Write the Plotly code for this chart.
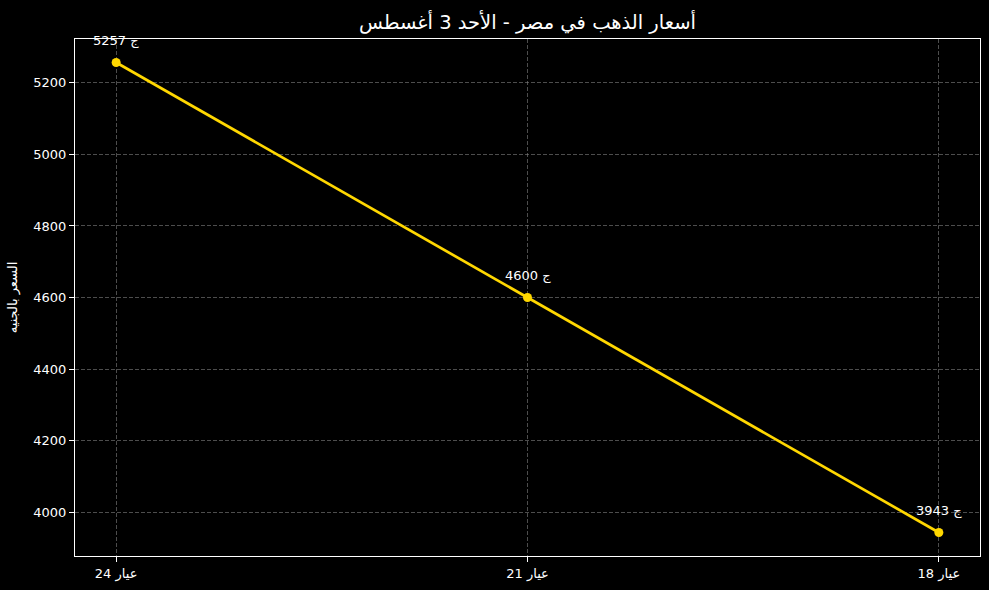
import plotly.graph_objects as go

categories = ["24 عيار", "21 عيار", "18 عيار"]
prices = [5257, 4600, 3943]
labels = [f"{p} ج" for p in prices]
y_ticks = [4000, 4200, 4400, 4600, 4800, 5000, 5200]

FONT = "DejaVu Sans"
xs = list(range(len(categories)))

fig = go.Figure()
fig.add_trace(go.Scatter(
    x=xs, y=prices, mode="lines+markers",
    line=dict(color="#FFD700", width=2.7),
    marker=dict(color="#FFD700", size=9),
    showlegend=False, hoverinfo="skip",
))
for x, y, t in zip(xs, prices, labels):
    fig.add_annotation(x=x, y=y, text=t, showarrow=False, yanchor="bottom",
                       xanchor="center", yshift=12,
                       font=dict(family=FONT, size=13, color="white"))

GRID = "rgba(128,128,128,0.6)"
pad = (max(prices) - min(prices)) * 0.05
fig.update_layout(
    width=989, height=590,
    paper_bgcolor="black", plot_bgcolor="black",
    margin=dict(l=75, r=9, t=39, b=34),
    font=dict(family=FONT, color="white", size=13),
    title=dict(text="أسعار الذهب في مصر - الأحد 3 أغسطس", x=0.5, xref="paper",
               xanchor="center", y=1 - 22 / 590, yanchor="middle",
               font=dict(family=FONT, size=19.5, color="white")),
    xaxis=dict(range=[-0.1, 2.1], tickmode="array", tickvals=xs, ticktext=categories,
               showgrid=True, gridcolor=GRID, griddash="4px,2px", gridwidth=1,
               showline=True, linecolor="white", linewidth=1, mirror=True,
               ticks="outside", ticklen=5, tickcolor="white", zeroline=False,
               tickfont=dict(family=FONT, size=13, color="white")),
    yaxis=dict(range=[min(prices) - pad, max(prices) + pad], tickmode="array",
               tickvals=y_ticks, ticktext=[str(v) for v in y_ticks],
               showgrid=True, gridcolor=GRID, griddash="4px,2px", gridwidth=1,
               showline=True, linecolor="white", linewidth=1, mirror=True,
               ticks="outside", ticklen=5, tickcolor="white", zeroline=False,
               title=dict(text="السعر بالجنيه", font=dict(family=FONT, size=13, color="white"),
                          standoff=12),
               tickfont=dict(family=FONT, size=13, color="white")),
)
fig.write_html("out.html", config={"displayModeBar": False},
               post_script="document.body.style.margin='0';document.body.style.background='black';")
